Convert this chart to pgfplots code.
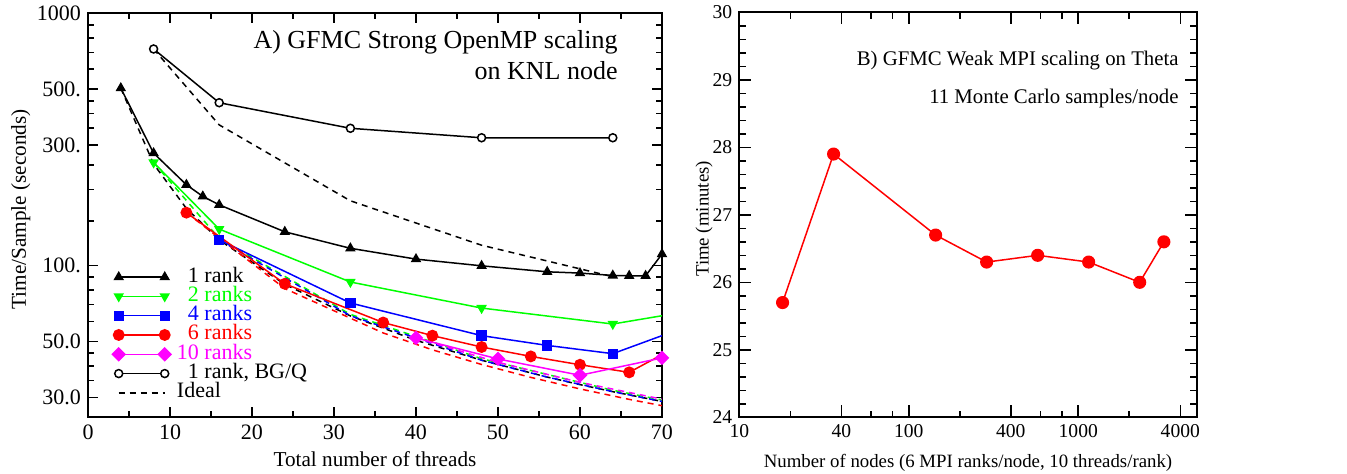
\documentclass[border=0pt]{standalone}
\usepackage{fontspec}
\setmainfont{Liberation Serif}
\usepackage{pgfplots}
\pgfplotsset{compat=1.18}
\definecolor{gmag}{rgb}{1,0,1}
\definecolor{ggreen}{rgb}{0,1,0}
\definecolor{gblue}{rgb}{0,0,1}
\definecolor{gred}{rgb}{1,0,0}
\begin{document}
\begin{tikzpicture}
\useasboundingbox (0,0) rectangle (673.5pt,-236.5pt);
\begin{axis}[
  at={(44pt,-208.65pt)}, anchor=south west,
  scale only axis, width=287pt, height=202pt,
  xmin=0, xmax=70, ymode=log, ymin=25, ymax=1000,
  xtick={0,10,20,30,40,50,60,70}, xticklabels={0,10,20,30,40,50,60,70},
  minor xtick={5,15,25,35,45,55,65},
  ytick={30,50,100,300,500,1000}, yticklabels={30.0,50.0,100.,300.,500.,1000},
  minor ytick={35,40,45,60,70,80,90,150,200,250,350,400,450,600,700,800,900},
  tick align=inside,
  axis line style={line width=1pt},
  every tick/.style={black, line width=0.8pt},
  major tick length=5pt, minor tick length=3pt,
  tick label style={font=\fontsize{11}{13}\selectfont},
  every axis x label/.style={at={(axis description cs:0.5,0)}, anchor=center, yshift=-21pt},
  every axis y label/.style={at={(axis description cs:-0.117,0.515)}, anchor=center, rotate=90},
  label style={font=\fontsize{10.6}{12}\selectfont},
  xlabel={Total number of threads},
  ylabel={Time/Sample (seconds)},
  every axis plot/.append style={line width=0.75pt},
  legend style={at={(axis description cs:0.042,0.372)}, anchor=north west, draw=none, fill=none,
    inner sep=0pt, row sep=0pt, column sep=3pt, font=\fontsize{11}{13}\selectfont,
    nodes={inner sep=0pt, text height=7.3pt, text depth=2.35pt}},
  legend cell align=left,
  legend image code/.code={\draw[#1] plot coordinates {(0pt,0pt) (23pt,0pt)};},
]
% ideal lines (dashed)
\addplot[black, dash pattern=on 3pt off 2.5pt, forget plot] coordinates {(8,722) (16,361) (32,180.5) (48,120.3) (64,90.25)};
\addplot[black, dash pattern=on 3pt off 2.5pt, forget plot] coordinates {(4,505) (8,252.5) (12,168.3) (16,126.3) (24,84.2) (32,63.1) (40,50.5) (48,42.1) (56,36.1) (60,33.7) (64,31.6) (70,28.9)};
\addplot[ggreen, dash pattern=on 3pt off 2.5pt, forget plot] coordinates {(8,256) (16,128) (32,64) (48,42.7) (64,32) (70,29.3)};
\addplot[gblue, dash pattern=on 3pt off 2.5pt, forget plot] coordinates {(16,126.4) (32,63.2) (48,42.1) (56,36.1) (64,31.6) (70,28.9)};
\addplot[gred, dash pattern=on 3pt off 2.5pt, forget plot] coordinates {(12,162) (24,81) (36,54) (42,46.3) (48,40.5) (54,36) (60,32.4) (66,29.45) (70,27.8)};
\addplot[gmag, dash pattern=on 3pt off 2.5pt, forget plot] coordinates {(40,51.6) (50,41.3) (60,34.4) (70,29.5)};
% series
\addplot[black, mark=triangle*, mark size=2.3pt] coordinates {(4,505) (8,279) (12,209) (14,188) (16,174) (24,136) (32,117) (40,106) (48,99.7) (56,94.4) (60,93.3) (64,91.3) (66,91) (68,91) (70,111)};
\addlegendentry{\phantom{1}1 rank}
\addplot[ggreen, mark=triangle*, mark options={rotate=180}, mark size=2.3pt, mark indices={1,2,3,4,5}] coordinates {(8,256) (16,139.4) (32,86) (48,67.8) (64,58.6) (70,63.2)};
\addlegendentry{\textcolor{ggreen}{\phantom{1}2 ranks}}
\addplot[gblue, mark=square*, mark size=2.2pt, mark indices={1,2,3,4,5}] coordinates {(16,126.4) (32,71) (48,52.7) (56,48.2) (64,44.7) (70,52.7)};
\addlegendentry{\textcolor{gblue}{\phantom{1}4 ranks}}
\addplot[gred, mark=*, mark size=2.6pt, mark indices={1,2,3,4,5,6,7,8}] coordinates {(12,162) (24,84.6) (36,59.4) (42,52.7) (48,47.5) (54,43.6) (60,40.4) (66,37.7) (70,44.3)};
\addlegendentry{\textcolor{gred}{\phantom{1}6 ranks}}
\addplot[gmag, mark=square*, mark options={rotate=45}, mark size=2.2pt] coordinates {(40,51.6) (50,42.6) (60,36.7) (70,43.0)};
\addlegendentry{\textcolor{gmag}{10 ranks}}
\addplot[black, mark=*, mark options={fill=white}, mark size=2pt] coordinates {(8,722) (16,442) (32,350) (48,321) (64,321)};
\addlegendentry{\phantom{1}1 rank, BG/Q}
\addlegendimage{black, line width=0.75pt, dash pattern=on 3pt off 2.5pt}
\addlegendentry{Ideal}
\node[anchor=east, font=\fontsize{13}{15}\selectfont, inner sep=0pt] at (axis description cs:0.9233,0.9277) {A) GFMC Strong OpenMP scaling};
\node[anchor=east, font=\fontsize{13}{15}\selectfont, inner sep=0pt] at (axis description cs:0.9233,0.858) {on KNL node};
\end{axis}
\begin{axis}[
  at={(369.65pt,-208.65pt)}, anchor=south west,
  scale only axis, width=228.7pt, height=202.5pt,
  xmode=log, xmin=10, xmax=5000, ymin=24, ymax=30,
  xtick={10,40,100,400,1000,4000}, xticklabels={10,40,100,400,1000,4000},
  minor xtick={20,60,80,200,600,800,2000},
  ytick={24,25,26,27,28,29,30}, yticklabels={24,25,26,27,28,29,30},
  minor y tick num=4,
  tick align=inside,
  axis line style={line width=1pt},
  every tick/.style={black, line width=0.8pt},
  major tick length=6pt, minor tick length=3.3pt,
  tick label style={font=\fontsize{9.8}{11}\selectfont},
  every axis x label/.style={at={(axis description cs:0.5,0)}, anchor=center, yshift=-22.7pt},
  every axis y label/.style={at={(axis description cs:-0.077,0.49)}, anchor=center, rotate=90},
  label style={font=\fontsize{9.4}{11}\selectfont},
  xlabel={Number of nodes (6 MPI ranks/node, 10 threads/rank)},
  ylabel={Time (minutes)},
]
\addplot[gred, line width=0.75pt, mark=*, mark size=2.9pt] coordinates {(18,25.7) (36,27.9) (144,26.7) (288,26.3) (576,26.4) (1152,26.3) (2304,26.0) (3200,26.6)};
\node[anchor=east, font=\fontsize{10.4}{12}\selectfont, inner sep=0pt] at (axis description cs:0.9613,0.880) {B) GFMC Weak MPI scaling on Theta};
\node[anchor=east, font=\fontsize{10.4}{12}\selectfont, inner sep=0pt] at (axis description cs:0.9613,0.786) {11 Monte Carlo samples/node};
\end{axis}
\end{tikzpicture}
\end{document}
